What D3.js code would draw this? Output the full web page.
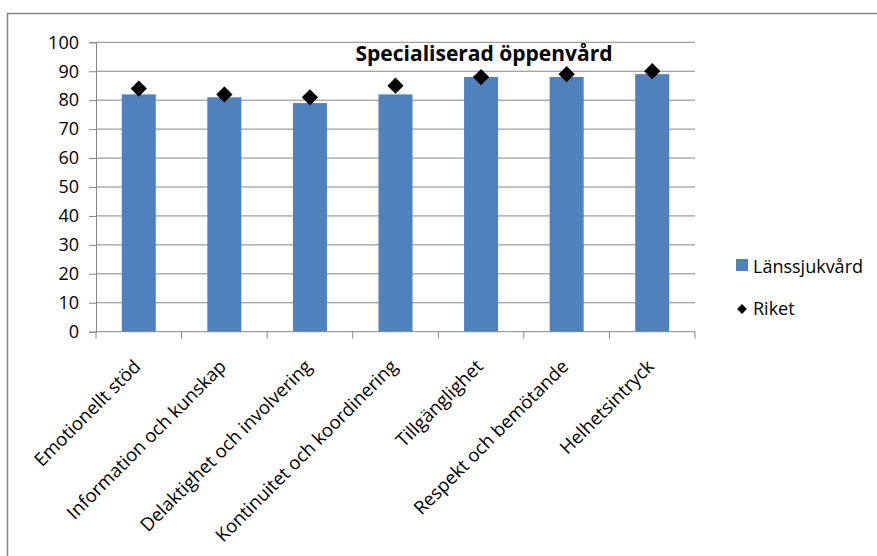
<!DOCTYPE html>
<html><head><meta charset="utf-8">
<script src="https://cdn.jsdelivr.net/npm/d3@7"></script>
<style>body{margin:0;background:#fff;} text{font-family:"Open Sans",sans-serif;}</style>
</head><body>
<svg id="c" width="877" height="556"></svg>
<script>
const categories = ["Emotionellt stöd","Information och kunskap","Delaktighet och involvering","Kontinuitet och koordinering","Tillgänglighet","Respekt och bemötande","Helhetsintryck"];
const lansValues = [82,81,79,82,88,88,89];
const riketValues = [84,82,81,85,88,89,90];
const yTicks = [0,10,20,30,40,50,60,70,80,90,100];
const seriesNames = ["Länssjukvård","Riket"];
const titleText = "Specialiserad öppenvård";

const FONT = '"Open Sans",sans-serif';
const svg = d3.select("#c");
const W = 877, H = 556;
svg.append("rect").attr("x",0).attr("y",0).attr("width",W).attr("height",H).attr("fill","#fff");
svg.append("rect").attr("x",7.5).attr("y",13.5).attr("width",W).attr("height",H).attr("fill","none").attr("stroke","#868686").attr("stroke-width",1.5);

const L=96, R=695, T=42.3, B=331.7;
const xb = d3.scaleBand().domain(categories).range([L,R]);
const y = d3.scaleLinear().domain([0,100]).range([B,T]);

svg.append("g").selectAll("line").data(yTicks.filter(d=>d>0)).join("line")
  .attr("x1",L).attr("x2",R).attr("y1",d=>y(d)).attr("y2",d=>y(d))
  .attr("stroke","#868686").attr("stroke-width",1);

const yAxis = d3.axisLeft(y).tickValues(yTicks).tickSize(7).tickPadding(10);
const gy = svg.append("g").attr("transform",`translate(${L},0)`).call(yAxis);
gy.select(".domain").attr("stroke","#868686");
gy.selectAll(".tick line").attr("stroke","#868686");
gy.selectAll(".tick text").attr("font-size",18).attr("fill","#000").attr("font-family",FONT);

svg.append("g").selectAll("rect").data(lansValues).join("rect")
  .attr("x",(d,i)=>xb(categories[i])+xb.bandwidth()/2-17)
  .attr("width",34)
  .attr("y",d=>y(d)).attr("height",d=>B-y(d))
  .attr("fill","#4f81bd");

const gx = svg.append("g").attr("transform",`translate(0,${B})`);
gx.append("line").attr("x1",L).attr("x2",R).attr("stroke","#868686").attr("stroke-width",1);
const bounds = categories.map(c=>xb(c)).concat([R]);
gx.selectAll("line.tk").data(bounds).join("line").attr("class","tk")
  .attr("x1",d=>d).attr("x2",d=>d).attr("y1",0).attr("y2",7).attr("stroke","#868686");
gx.selectAll("text").data(categories).join("text")
  .attr("transform",c=>`translate(${xb(c)+xb.bandwidth()/2+3},${36}) rotate(-45)`)
  .attr("text-anchor","end").attr("font-size",18.5).attr("fill","#000").text(c=>c);

svg.append("g").selectAll("path").data(riketValues).join("path")
  .attr("transform",(d,i)=>`translate(${xb(categories[i])+xb.bandwidth()/2},${y(d)}) rotate(45)`)
  .attr("d",d3.symbol().type(d3.symbolSquare).size(132)())
  .attr("fill","#000");

svg.append("text").attr("x",484).attr("y",61).attr("text-anchor","middle")
  .attr("font-size",21).attr("font-weight","bold").attr("fill","#000").text(titleText);

const lg = svg.append("g");
lg.append("rect").attr("x",736).attr("y",259).attr("width",12).attr("height",12).attr("fill","#4f81bd");
lg.append("text").attr("x",753).attr("y",273).attr("font-size",18).text(seriesNames[0]);
lg.append("path").attr("transform","translate(742,309) rotate(45)").attr("d",d3.symbol().type(d3.symbolSquare).size(48)()).attr("fill","#000");
lg.append("text").attr("x",753).attr("y",315).attr("font-size",18).text(seriesNames[1]);
</script>
</body></html>
